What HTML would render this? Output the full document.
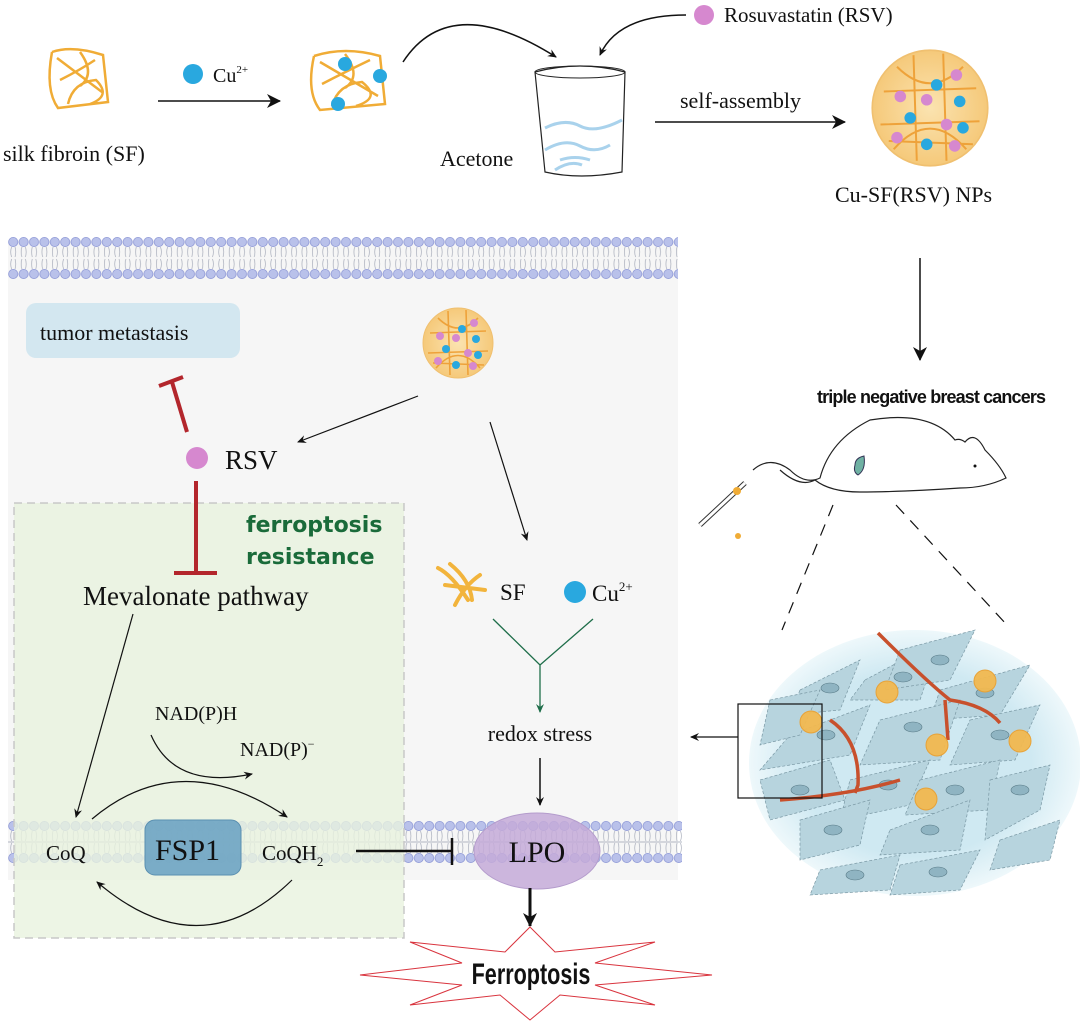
<!DOCTYPE html>
<html><head><meta charset="utf-8"><style>
html,body{margin:0;padding:0;background:#fff;}
svg{display:block;}
.t{font-family:"Liberation Serif",serif;fill:#111;}
.b{font-family:"Liberation Sans",sans-serif;font-weight:bold;fill:#111;}
</style></head><body>
<svg width="1080" height="1021" viewBox="0 0 1080 1021" xmlns="http://www.w3.org/2000/svg">
<defs>
<marker id="ah" markerWidth="10" markerHeight="10" refX="8" refY="5" orient="auto" markerUnits="userSpaceOnUse"><path d="M0,1 L9,5 L0,9 L3,5z" fill="#111"/></marker>
<marker id="ahb" markerWidth="16" markerHeight="16" refX="13" refY="8" orient="auto" markerUnits="userSpaceOnUse"><path d="M0,1 L14,8 L0,15 L4,8z" fill="#111"/></marker>
<marker id="ahg" markerWidth="10" markerHeight="10" refX="8" refY="5" orient="auto" markerUnits="userSpaceOnUse"><path d="M0,1 L9,5 L0,9 L3,5z" fill="#1f6e4a"/></marker>
<pattern id="mem" x="0" y="0" width="10.4" height="44" patternUnits="userSpaceOnUse">
<circle cx="5.2" cy="6" r="4.6" fill="#b9c1ea" stroke="#8e98d6" stroke-width="0.8"/>
<circle cx="5.2" cy="38" r="4.6" fill="#b9c1ea" stroke="#8e98d6" stroke-width="0.8"/>
<path d="M3.5,11 q-1.5,5 0,10 M7,11 q1.5,5 0,10 M3.5,23 q-1.5,5 0,10 M7,23 q1.5,5 0,10" stroke="#9aa0b0" stroke-width="0.6" fill="none"/>
</pattern>
<radialGradient id="tis" cx="50%" cy="50%" r="50%"><stop offset="0.7" stop-color="#cfe9f2"/><stop offset="1" stop-color="#eef8fb"/></radialGradient>
<radialGradient id="np" cx="50%" cy="50%" r="50%"><stop offset="0" stop-color="#fbe3b0"/><stop offset="1" stop-color="#f5c97a"/></radialGradient>
</defs>

<rect x="8" y="240" width="670" height="640" fill="#f6f6f6"/>
<g transform="translate(8,236)"><rect x="0" y="0" width="670" height="44" fill="url(#mem)"/></g>
<g transform="translate(8,820)"><rect x="0" y="0" width="674" height="44" fill="url(#mem)"/></g>
<line x1="8" y1="842" x2="682" y2="842" stroke="#9aa0b0" stroke-width="0.8"/>

<rect x="14" y="503" width="390" height="435" fill="#e9f2df" fill-opacity="0.8" stroke="#c8c8c8" stroke-width="1.5" stroke-dasharray="8,5"/>

<rect x="26" y="303" width="214" height="55" rx="10" fill="#d3e7f0"/>
<text class="t" x="40" y="340" font-size="22">tumor metastasis</text>
<line x1="187" y1="432" x2="172" y2="382" stroke="#b3262c" stroke-width="4"/>
<line x1="159" y1="386" x2="183" y2="377" stroke="#b3262c" stroke-width="4"/>
<circle cx="197" cy="458" r="11" fill="#d688cf"/>
<text class="t" x="225" y="469" font-size="27">RSV</text>
<line x1="196" y1="481" x2="196" y2="573" stroke="#b3262c" stroke-width="4"/>
<line x1="174" y1="573" x2="217" y2="573" stroke="#b3262c" stroke-width="4"/>
<text x="246" y="532" font-size="22" font-weight="bold" fill="#1a6b3a" font-family="DejaVu Sans,sans-serif">ferroptosis</text>
<text x="246" y="564" font-size="22" font-weight="bold" fill="#1a6b3a" font-family="DejaVu Sans,sans-serif">resistance</text>
<text class="t" x="83" y="605" font-size="27">Mevalonate pathway</text>
<line x1="133" y1="614" x2="76" y2="817" stroke="#111" stroke-width="1.2" marker-end="url(#ah)"/>
<text class="t" x="155" y="720" font-size="20">NAD(P)H</text>
<text class="t" x="240" y="756" font-size="20">NAD(P)<tspan font-size="12" dy="-8">−</tspan></text>
<path d="M151,735 Q175,790 252,774" stroke="#111" stroke-width="1.2" fill="none" marker-end="url(#ah)"/>
<path d="M92,819 Q180,745 287,817" stroke="#111" stroke-width="1.2" fill="none" marker-end="url(#ah)"/>
<path d="M292,880 Q200,970 97,882" stroke="#111" stroke-width="1.2" fill="none" marker-end="url(#ah)"/>
<text class="t" x="46" y="860" font-size="21">CoQ</text>
<rect x="145" y="820" width="96" height="55" rx="10" fill="#6ea4c3" fill-opacity="0.9" stroke="#5a8fb0"/>
<text class="t" x="155" y="860" font-size="30">FSP1</text>
<text class="t" x="262" y="860" font-size="21">CoQH<tspan font-size="13" dy="6">2</tspan></text>
<line x1="356" y1="851" x2="452" y2="851" stroke="#111" stroke-width="2.5"/>
<line x1="452" y1="838" x2="452" y2="865" stroke="#111" stroke-width="2.5"/>
<ellipse cx="537" cy="851" rx="63" ry="38" fill="#c4aad8" fill-opacity="0.85" stroke="#b49ccc"/>
<text class="t" x="537" y="862" font-size="30" text-anchor="middle">LPO</text>
<line x1="530" y1="888" x2="530" y2="926" stroke="#111" stroke-width="3" marker-end="url(#ahb)"/>
<polygon points="530,927 555,952 655,942 595,963 712,975 595,985 655,1005 560,995 530,1020 500,995 410,1005 462,985 360,975 462,963 410,942 505,952" fill="#fff" stroke="#d9343e" stroke-width="1"/>
<text class="b" font-size="30" text-anchor="middle" transform="translate(531,984) scale(0.72,1)">Ferroptosis</text>

<g transform="translate(458,343)">
<circle r="35" fill="url(#np)" stroke="#f0c070"/>
<path d="M-28,-10 L28,-12 M-30,10 L30,8 M-25,20 L26,22 M-10,-32 L-8,32 M8,-33 L10,32 M-20,-25 Q0,-5 20,-25 M-22,25 Q0,0 22,25" stroke="#eea23a" stroke-width="1.6" fill="none"/>
<circle cx="4" cy="-14" r="4" fill="#29a8df"/><circle cx="-18" cy="-7" r="4" fill="#d688cf"/><circle cx="18" cy="-4" r="4" fill="#29a8df"/><circle cx="-2" cy="-5" r="4" fill="#d688cf"/><circle cx="-12" cy="6" r="4" fill="#29a8df"/><circle cx="10" cy="10" r="4" fill="#d688cf"/><circle cx="20" cy="12" r="4" fill="#29a8df"/><circle cx="-20" cy="18" r="4" fill="#d688cf"/><circle cx="-2" cy="22" r="4" fill="#29a8df"/><circle cx="15" cy="23" r="4" fill="#d688cf"/><circle cx="16" cy="-20" r="4" fill="#d688cf"/>
</g>
<line x1="418" y1="396" x2="298" y2="442" stroke="#111" stroke-width="1.2" marker-end="url(#ah)"/>
<line x1="490" y1="422" x2="527" y2="540" stroke="#111" stroke-width="1.2" marker-end="url(#ah)"/>
<path d="M438,568 Q452,575 468,600 M450,564 Q470,580 472,600 M445,585 L485,590 M455,605 Q465,585 480,575" stroke="#f2b43c" stroke-width="4" fill="none" stroke-linecap="round"/>
<text class="t" x="500" y="600" font-size="23">SF</text>
<circle cx="575" cy="592" r="11" fill="#29a8df"/>
<text class="t" x="592" y="601" font-size="23">Cu<tspan font-size="13" dy="-10">2+</tspan></text>
<path d="M493,619 L540,665 L593,619 M540,665 L540,712" stroke="#1f6e4a" stroke-width="1.3" fill="none" marker-end="url(#ahg)"/>
<text class="t" x="540" y="741" font-size="22" text-anchor="middle">redox stress</text>
<line x1="540" y1="758" x2="540" y2="805" stroke="#111" stroke-width="1.5" marker-end="url(#ah)"/>

<!-- TOP -->
<path d="M52,52 Q45,90 58,108 L108,102 L103,55 Q72,45 52,52 M57,58 L102,92 M68,104 Q73,82 96,80 Q112,96 90,104 M80,52 Q96,74 80,86 M60,80 Q80,70 95,60" stroke="#f0ac36" stroke-width="2.5" fill="none"/>
<text class="t" x="3" y="161" font-size="22">silk fibroin (SF)</text>
<circle cx="193" cy="74" r="10" fill="#29a8df"/>
<text class="t" x="213" y="82" font-size="20">Cu<tspan font-size="11" dy="-9">2+</tspan></text>
<line x1="158" y1="101" x2="280" y2="101" stroke="#111" stroke-width="1.5" marker-end="url(#ahb)"/>
<path d="M314,56 Q306,92 320,110 L385,104 L380,56 Q345,46 314,56 M320,62 L378,96 M332,106 Q338,84 362,82 Q382,98 356,106 M345,54 Q362,76 345,88 M322,84 Q345,72 370,60" stroke="#f0ac36" stroke-width="2.5" fill="none"/>
<circle cx="345" cy="64" r="7" fill="#29a8df"/><circle cx="380" cy="76" r="7" fill="#29a8df"/><circle cx="338" cy="104" r="7" fill="#29a8df"/>
<path d="M403,62 Q450,-10 556,57" stroke="#111" stroke-width="1.5" fill="none" marker-end="url(#ah)"/>
<circle cx="704" cy="15" r="10" fill="#d688cf"/>
<text class="t" x="724" y="22" font-size="21">Rosuvastatin (RSV)</text>
<path d="M686,15 Q618,15 600,55" stroke="#111" stroke-width="1.5" fill="none" marker-end="url(#ah)"/>
<path d="M535,72 Q580,60 625,72 L622,172 Q580,180 545,172 Z" fill="#fff" stroke="#222" stroke-width="1.2"/>
<ellipse cx="580" cy="72" rx="45" ry="6" fill="none" stroke="#222" stroke-width="1"/>
<path d="M545,128 Q565,118 580,126 T622,120 M545,150 Q565,138 580,146 T610,145 M555,170 Q570,160 582,165 M560,160 Q575,155 590,160" stroke="#a9d2ec" stroke-width="3" fill="none"/>
<text class="t" x="440" y="166" font-size="22">Acetone</text>
<line x1="655" y1="122" x2="845" y2="122" stroke="#111" stroke-width="1.5" marker-end="url(#ahb)"/>
<text class="t" x="680" y="108" font-size="22">self-assembly</text>
<g transform="translate(930,108) scale(1.65)">
<circle r="35" fill="url(#np)" stroke="#f0c070"/>
<path d="M-28,-10 L28,-12 M-30,10 L30,8 M-25,20 L26,22 M-10,-32 L-8,32 M8,-33 L10,32 M-20,-25 Q0,-5 20,-25 M-22,25 Q0,0 22,25" stroke="#eea23a" stroke-width="1.2" fill="none"/>
<circle cx="4" cy="-14" r="3.5" fill="#29a8df"/><circle cx="-18" cy="-7" r="3.5" fill="#d688cf"/><circle cx="18" cy="-4" r="3.5" fill="#29a8df"/><circle cx="-2" cy="-5" r="3.5" fill="#d688cf"/><circle cx="-12" cy="6" r="3.5" fill="#29a8df"/><circle cx="10" cy="10" r="3.5" fill="#d688cf"/><circle cx="20" cy="12" r="3.5" fill="#29a8df"/><circle cx="-20" cy="18" r="3.5" fill="#d688cf"/><circle cx="-2" cy="22" r="3.5" fill="#29a8df"/><circle cx="15" cy="23" r="3.5" fill="#d688cf"/><circle cx="16" cy="-20" r="3.5" fill="#d688cf"/>
</g>
<text class="t" x="835" y="202" font-size="22">Cu-SF(RSV) NPs</text>

<!-- RIGHT -->
<line x1="920" y1="258" x2="920" y2="360" stroke="#111" stroke-width="1.5" marker-end="url(#ahb)"/>
<text class="b" x="817" y="403" font-size="18" textLength="229">triple negative breast cancers</text>
<path d="M753,470 Q770,455 790,470 Q805,485 820,478 Q830,440 870,420 Q930,410 955,440 Q960,438 965,442 Q975,430 985,450 Q1000,465 1006,478 Q985,488 960,488 Q900,492 860,492 Q830,492 815,480 Q800,488 780,470" fill="#fff" stroke="#222" stroke-width="1.2"/>
<path d="M855,465 Q855,458 864,456 Q866,470 858,475 Q853,472 855,465z" fill="#6fb1a3" stroke="#335"/>
<circle cx="975" cy="466" r="1.5" fill="#111"/>
<line x1="700" y1="525" x2="745" y2="483" stroke="#333" stroke-width="5"/>
<line x1="700" y1="525" x2="745" y2="483" stroke="#fff" stroke-width="3"/>
<circle cx="737" cy="491" r="4" fill="#f0ac36"/>
<circle cx="738" cy="536" r="3" fill="#f0ac36"/>
<line x1="833" y1="505" x2="782" y2="630" stroke="#111" stroke-width="1.2" stroke-dasharray="12,9"/>
<line x1="896" y1="505" x2="1007" y2="625" stroke="#111" stroke-width="1.2" stroke-dasharray="12,9"/>
<ellipse cx="915" cy="763" rx="166" ry="133" fill="url(#tis)"/>
<g fill="#b7d4de" stroke="#7a98a4" stroke-width="0.7" stroke-dasharray="3,2">
<path d="M790,735 L870,705 L850,755 L760,770z"/><path d="M800,690 L860,660 L840,710 L790,715z"/>
<path d="M865,680 L940,640 L920,700 L850,700z"/><path d="M900,650 L975,630 L950,680 L885,690z"/>
<path d="M940,690 L1030,665 L1000,715 L930,720z"/><path d="M880,720 L960,700 L940,760 L860,765z"/>
<path d="M970,720 L1040,705 L1015,760 L950,765z"/><path d="M760,780 L830,760 L845,800 L770,820z"/>
<path d="M850,780 L930,760 L910,805 L840,820z"/><path d="M920,780 L1000,760 L990,810 L905,815z"/>
<path d="M990,780 L1050,765 L1040,810 L985,840z"/><path d="M800,820 L870,800 L860,845 L800,860z"/>
<path d="M890,830 L970,800 L960,850 L880,855z"/><path d="M820,870 L900,855 L890,890 L810,895z"/>
<path d="M900,865 L980,850 L960,890 L890,895z"/><path d="M770,700 L820,690 L800,735 L760,745z"/>
<path d="M1000,840 L1060,820 L1050,860 L990,870z"/>
</g>
<g fill="#8fb4c2" stroke="#5a7c88" stroke-width="0.6">
<ellipse cx="826" cy="735" rx="9" ry="5"/><ellipse cx="830" cy="688" rx="9" ry="5"/><ellipse cx="903" cy="677" rx="9" ry="5"/><ellipse cx="940" cy="660" rx="9" ry="5"/><ellipse cx="985" cy="693" rx="9" ry="5"/><ellipse cx="913" cy="727" rx="9" ry="5"/><ellipse cx="1000" cy="735" rx="9" ry="5"/><ellipse cx="800" cy="790" rx="9" ry="5"/><ellipse cx="888" cy="785" rx="9" ry="5"/><ellipse cx="955" cy="790" rx="9" ry="5"/><ellipse cx="1020" cy="790" rx="9" ry="5"/><ellipse cx="833" cy="830" rx="9" ry="5"/><ellipse cx="930" cy="830" rx="9" ry="5"/><ellipse cx="855" cy="875" rx="9" ry="5"/><ellipse cx="938" cy="872" rx="9" ry="5"/>
</g>
<path d="M878,633 Q925,680 950,700 Q985,705 1000,723 M945,700 L948,740 M830,720 Q860,740 858,785 L855,793 M780,800 Q850,795 900,780" stroke="#c8502c" stroke-width="3.5" fill="none"/>
<g fill="#f2b950" stroke="#eaa030" opacity="0.95">
<circle cx="811" cy="722" r="11"/><circle cx="887" cy="692" r="11"/><circle cx="985" cy="681" r="11"/><circle cx="937" cy="745" r="11"/><circle cx="1020" cy="741" r="11"/><circle cx="926" cy="799" r="11"/>
</g>
<rect x="738" y="704" width="84" height="94" fill="none" stroke="#111" stroke-width="1.2"/>
<line x1="738" y1="737" x2="691" y2="737" stroke="#111" stroke-width="1.3" marker-end="url(#ah)"/>
</svg>
</body></html>
